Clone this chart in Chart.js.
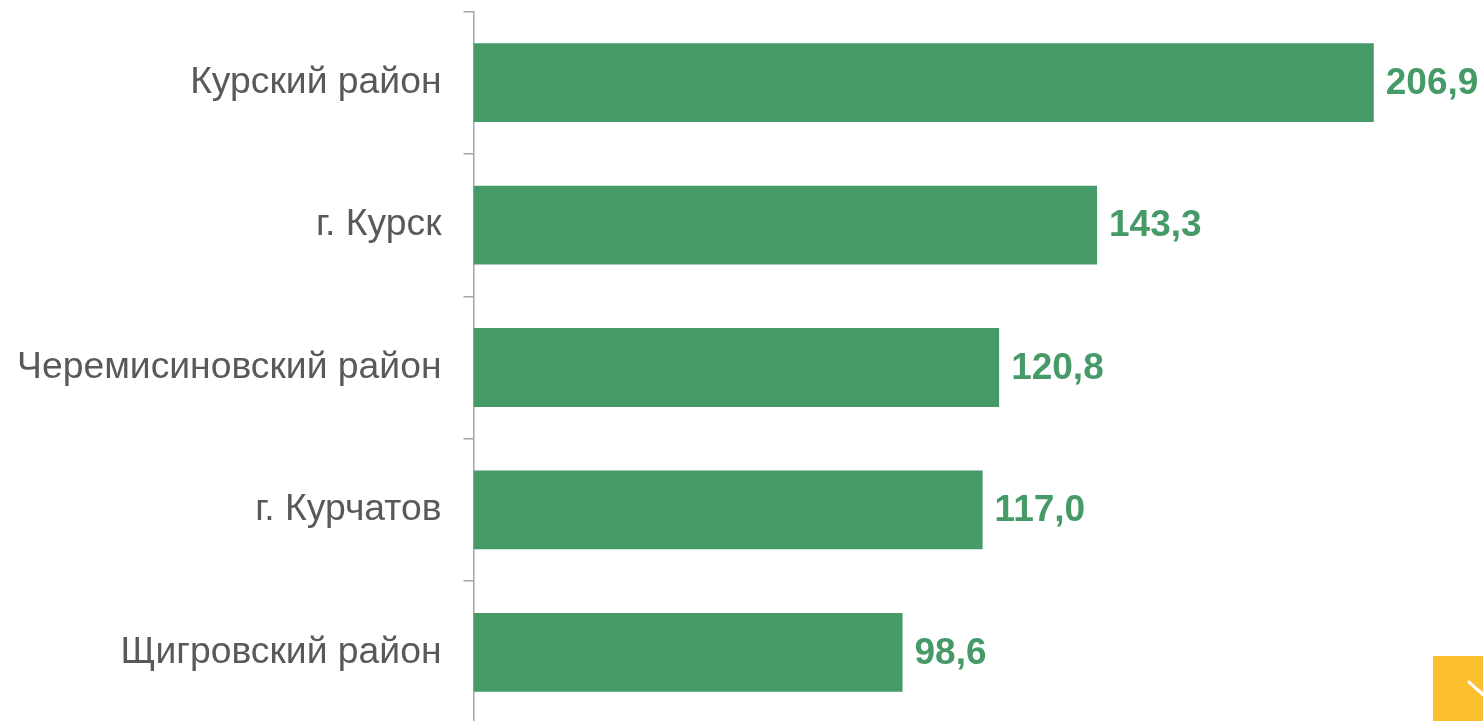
<!DOCTYPE html>
<html>
<head>
<meta charset="utf-8">
<script src="https://cdn.jsdelivr.net/npm/chart.js@4"></script>
<style>
  html, body { margin: 0; padding: 0; background: #fff; overflow: hidden; }
  #wrap { position: absolute; left: 0; top: -33px; width: 1483px; height: 801px; }
  #corner { position: absolute; left: 1433px; top: 656px; width: 50px; height: 65px; background: #FCBF2D; overflow: hidden; }
  #corner div { position: absolute; left: 36px; top: 24px; width: 24px; height: 3px; background: #fff; transform: rotate(42deg); transform-origin: 0 0; }
</style>
</head>
<body>
<div id="wrap"><canvas id="chart"></canvas></div>
<div id="corner"><div></div></div>
<script>
const categories = ['Курский район', 'г. Курск', 'Черемисиновский район', 'г. Курчатов', 'Щигровский район'];
const values = [206.9, 143.3, 120.8, 117.0, 98.6];
const xMax = 232;

const green = '#459A68';
const grey = '#595959';
const axisGrey = '#A6A6A6';

// value labels at the end of each bar
const valueLabels = {
    id: 'valueLabels',
    afterDatasetsDraw(chart){
        const ctx = chart.ctx;
        const meta = chart.getDatasetMeta(0);
        ctx.save();
        ctx.font = 'bold 37px "Liberation Sans", Arial, sans-serif';
        ctx.fillStyle = green;
        ctx.textAlign = 'left';
        ctx.textBaseline = 'middle';
        meta.data.forEach((bar, i) => {
            const txt = values[i].toFixed(1).replace('.', ',');
            ctx.fillText(txt, bar.x + 12, bar.y + 1);
        });
        ctx.restore();
    }
};

const canvas = document.getElementById('chart');
const myChart = new Chart(canvas, {
    type: 'bar',
    data: {
        labels: categories,
        datasets: [{
            data: values,
            backgroundColor: green,
            borderWidth: 0,
            categoryPercentage: 0.553,
            barPercentage: 1
        }]
    },
    options: {
        indexAxis: 'y',
        responsive: true,
        maintainAspectRatio: false,
        animation: false,
        layout: { padding: { top: 11, bottom: 11, left: 0, right: 0 } },
        plugins: {
            legend: { display: false },
            tooltip: { enabled: false }
        },
        scales: {
            x: {
                display: false,
                min: 0,
                max: xMax
            },
            y: {
                afterFit(scale){ scale.width = 473.5; },
                border: { display: true, color: axisGrey, width: 1.5 },
                grid: {
                    offset: true,
                    drawOnChartArea: false,
                    drawTicks: true,
                    tickLength: 10,
                    color: axisGrey,
                    lineWidth: 1.5
                },
                ticks: {
                    color: grey,
                    padding: 22,
                    font: { family: '"Liberation Sans", Arial, sans-serif', size: 37.3 }
                }
            }
        }
    },
    plugins: [valueLabels]
});
</script>
</body>
</html>
